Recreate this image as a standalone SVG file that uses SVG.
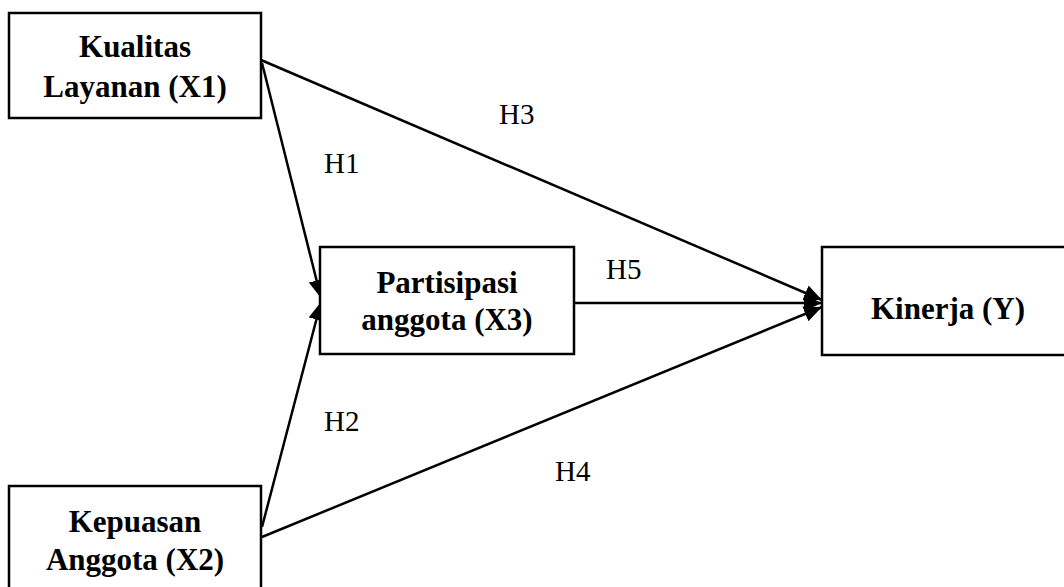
<svg xmlns="http://www.w3.org/2000/svg" width="1064" height="587" viewBox="0 0 1064 587">
<style>
.box{fill:#fff;stroke:#000;stroke-width:2.5}
.lbl{font-family:"Liberation Serif","Times New Roman",serif;font-weight:bold;font-size:31px;fill:#000;text-anchor:middle}
.h{font-family:"Liberation Serif","Times New Roman",serif;font-size:29px;fill:#000}
.edge{stroke:#000;stroke-width:2.5;fill:none;marker-end:url(#arr)}
</style>
<defs>
<marker id="arr" markerUnits="userSpaceOnUse" markerWidth="18" markerHeight="16" refX="18" refY="8" orient="auto">
<path d="M0,0 L18,8 L0,16 z" fill="#000"/>
</marker>
</defs>
<rect width="1064" height="587" fill="#fff"/>
<g id="connectors">
<line class="edge" x1="261" y1="60" x2="822" y2="300"/>
<line class="edge" x1="262" y1="63" x2="321" y2="298"/>
<line class="edge" x1="262" y1="527" x2="321" y2="302"/>
<line class="edge" x1="262" y1="537" x2="822" y2="307"/>
<line class="edge" x1="574" y1="303" x2="822" y2="303"/>
</g>
<g id="labels">
<text class="h" x="324" y="173">H1</text>
<text class="h" x="499" y="124">H3</text>
<text class="h" x="606" y="279">H5</text>
<text class="h" x="324" y="431">H2</text>
<text class="h" x="555" y="481">H4</text>
</g>
<g id="node-x1">
<rect class="box" x="9" y="13" width="252" height="105"/>
<text class="lbl" x="135" y="57">Kualitas</text>
<text class="lbl" x="135" y="97">Layanan (X1)</text>
</g>
<g id="node-x2">
<rect class="box" x="9" y="486" width="252" height="110"/>
<text class="lbl" x="135" y="532">Kepuasan</text>
<text class="lbl" x="135" y="570">Anggota (X2)</text>
</g>
<g id="node-x3">
<rect class="box" x="320" y="247" width="254" height="107"/>
<text class="lbl" x="447" y="293">Partisipasi</text>
<text class="lbl" x="447" y="330">anggota (X3)</text>
</g>
<g id="node-y">
<rect class="box" x="822" y="247" width="250" height="108"/>
<text class="lbl" x="948" y="319">Kinerja (Y)</text>
</g>
</svg>
